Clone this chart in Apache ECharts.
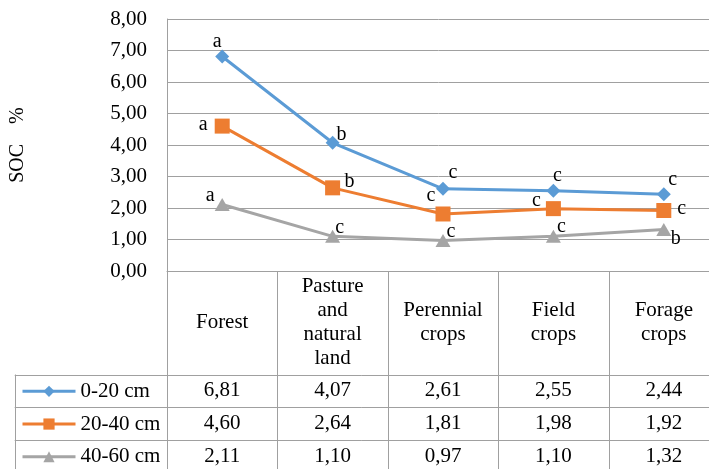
<!DOCTYPE html>
<html>
<head>
<meta charset="utf-8">
<script src="https://cdn.jsdelivr.net/npm/echarts@6/dist/echarts.min.js"></script>
<style>
  html, body { margin: 0; padding: 0; background: #fff; }
  #chart { width: 709px; height: 469px; }
</style>
</head>
<body>
<div id="chart"></div>
<script>
// Soil organic carbon (%) by land use and sampling depth
const landUses = ['Forest', 'Pasture\nand\nnatural\nland', 'Perennial\ncrops', 'Field\ncrops', 'Forage\ncrops'];
const depths = ['0-20 cm', '20-40 cm', '40-60 cm'];
const soc0to20 = [6.81, 4.07, 2.61, 2.55, 2.44];
const soc20to40 = [4.60, 2.64, 1.81, 1.98, 1.92];
const soc40to60 = [2.11, 1.10, 0.97, 1.10, 1.32];
// significance letters per point
const letters0to20 = ['a', 'b', 'c', 'c', 'c'];
const letters20to40 = ['a', 'b', 'c', 'c', 'c'];
const letters40to60 = ['a', 'c', 'c', 'c', 'b'];

// where each letter sits relative to its marker, [dx, dy]
const letterOffsets = [
  [[-5, -15], [9, -8], [10, -16], [4, -15], [9, -14]],
  [[-19, -1], [17, -6], [-12, -18], [-17, -8], [18, -2]],
  [[-12, -9], [7, -9], [8, -9], [8, -10], [12, 9]]
];

const colors = ['#5B9BD5', '#ED7D31', '#A5A5A5'];
const symbols = ['diamond', 'rect', 'triangle'];
const symbolSizes = [[14, 14], 15, [15, 13]];
const seriesValues = [soc0to20, soc20to40, soc40to60];
const seriesLetters = [letters0to20, letters20to40, letters40to60];

const FONT = '"Liberation Serif", "Times New Roman", serif';
const LINE = '#a0a0a0';
const TXT = '#000';

// plot area; the last column runs past the right edge of the canvas
const G = { left: 167, top: 19, width: 552, height: 252 };
const band = G.width / landUses.length;
const headerBottom = 374.5;
const rowH = 32.7;
const tableLeft = 14.7;
const canvasW = 709, canvasH = 469;

const fmt = v => v.toFixed(2).replace('.', ',');

const series = seriesValues.map((vals, s) => ({
  name: depths[s],
  type: 'line',
  data: vals.map((v, i) => ({
    value: v,
    label: { offset: letterOffsets[s][i] }
  })),
  color: colors[s],
  symbol: symbols[s],
  symbolSize: symbolSizes[s],
  lineStyle: { width: 3, color: colors[s] },
  itemStyle: { color: colors[s] },
  label: {
    show: true,
    position: 'inside',
    align: 'center',
    verticalAlign: 'middle',
    fontFamily: FONT,
    fontSize: 20,
    color: TXT,
    formatter: p => seriesLetters[s][p.dataIndex]
  },
  emphasis: { disabled: true },
  animation: false,
  z: 10 - s
}));

// data table beneath the plot
const px = v => Math.round(v) + 0.5;
const graphics = [];
const gridBottom = G.top + G.height;
function hline(y, x1, x2) {
  graphics.push({ type: 'line', silent: true,
    shape: { x1: x1, y1: px(y), x2: x2, y2: px(y) },
    style: { stroke: LINE, lineWidth: 1 } });
}
function vline(x, y1, y2) {
  graphics.push({ type: 'line', silent: true,
    shape: { x1: px(x), y1: y1, x2: px(x), y2: y2 },
    style: { stroke: LINE, lineWidth: 1 } });
}
for (let i = 0; i <= landUses.length; i++) vline(G.left + i * band, gridBottom, canvasH);
vline(tableLeft, headerBottom, canvasH);
for (let r = 0; r <= depths.length; r++) hline(headerBottom + r * rowH, tableLeft, canvasW);

landUses.forEach((name, i) => {
  graphics.push({ type: 'text', silent: true,
    x: G.left + (i + 0.5) * band, y: (gridBottom + headerBottom) / 2,
    style: { text: name, fontFamily: FONT, fontSize: 21, lineHeight: 24,
      fill: TXT, align: 'center', verticalAlign: 'middle' } });
});
seriesValues.forEach((vals, r) => {
  vals.forEach((v, i) => {
    graphics.push({ type: 'text', silent: true,
      x: G.left + (i + 0.5) * band, y: headerBottom + (r + 0.5) * rowH,
      style: { text: fmt(v), fontFamily: FONT, fontSize: 21,
        fill: TXT, align: 'center', verticalAlign: 'middle' } });
  });
});

// one legend key per table row
const legends = depths.map((d, r) => ({
  data: [d],
  orient: 'horizontal',
  left: 21,
  top: headerBottom + (r + 0.5) * rowH - 10,
  padding: 0,
  itemWidth: 53,
  itemHeight: 14,
  selectedMode: false,
  lineStyle: { width: 3 },
  textStyle: { fontFamily: FONT, fontSize: 21, lineHeight: 20, color: TXT }
}));

const chart = echarts.init(document.getElementById('chart'), null, { renderer: 'canvas' });
chart.setOption({
  animation: false,
  backgroundColor: '#fff',
  grid: {
    left: G.left, top: G.top, width: G.width, height: G.height,
    containLabel: false,
    outerBoundsMode: 'none'
  },
  xAxis: {
    type: 'category',
    data: landUses,
    boundaryGap: true,
    axisLine: { show: true, lineStyle: { color: LINE, width: 1 } },
    axisTick: { show: false },
    axisLabel: { show: false },
    splitLine: { show: false }
  },
  yAxis: {
    type: 'value',
    min: 0, max: 8, interval: 1,
    name: 'SOC    %',
    nameLocation: 'middle',
    nameRotate: 90,
    nameGap: 139,
    nameTextStyle: { fontFamily: FONT, fontSize: 20, color: TXT },
    axisLine: { show: true, lineStyle: { color: LINE, width: 1 } },
    axisTick: { show: false },
    axisLabel: { margin: 20, fontFamily: FONT, fontSize: 21, color: TXT, formatter: v => fmt(v) },
    splitLine: { show: true, lineStyle: { color: LINE, width: 1 } }
  },
  legend: legends,
  series: series,
  graphic: graphics
});
</script>
</body>
</html>
